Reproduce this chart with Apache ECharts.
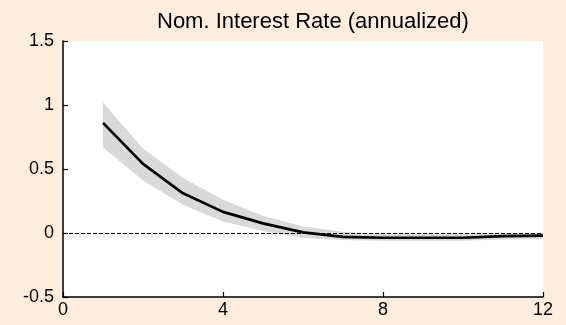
<!DOCTYPE html>
<html><head><meta charset="utf-8">
<script src="https://cdn.jsdelivr.net/npm/echarts@6/dist/echarts.min.js"></script>
<style>html,body{margin:0;padding:0;background:#fdeedf;}#c{width:566px;height:325px;}</style>
</head><body><div id="c"></div>
<script>
const horizons = [1,2,3,4,5,6,7,8,9,10,11,12];
const median = [0.86, 0.54, 0.31, 0.165, 0.075, 0.005, -0.03, -0.037, -0.037, -0.037, -0.025, -0.02];
const upper  = [1.02, 0.66, 0.43, 0.26, 0.135, 0.05, 0.01, -0.005, -0.005, -0.005, 0.0, 0.0];
const lower  = [0.67, 0.41, 0.22, 0.09, 0.015, -0.04, -0.055, -0.06, -0.06, -0.06, -0.05, -0.045];
const xTicks = [0, 4, 8, 12];
const yTicks = [-0.5, 0, 0.5, 1, 1.5];
const titleText = 'Nom. Interest Rate (annualized)';

const font = 'Liberation Sans, Arial, Helvetica, sans-serif';
const chart = echarts.init(document.getElementById('c'));
chart.setOption({
  backgroundColor: '#fdeedf',
  animation: false,
  title: { text: titleText, left: 152, top: 6,
    textStyle: { fontFamily: font, fontSize: 22, fontWeight: 'normal', color: '#000' } },
  grid: { left: 63, right: 23, top: 41, bottom: 28, show: true, backgroundColor: '#fff', borderWidth: 0 },
  xAxis: { type: 'value', min: xTicks[0], max: xTicks[xTicks.length-1], interval: 4,
    axisLine: { onZero: false, lineStyle: { color: '#000', width: 1.5 } },
    axisTick: { inside: true, length: 5, lineStyle: { color: '#000', width: 1.2 } },
    axisLabel: { fontFamily: font, fontSize: 18, color: '#000', margin: 4 },
    splitLine: { show: false } },
  yAxis: { type: 'value', min: yTicks[0], max: yTicks[yTicks.length-1], interval: 0.5,
    axisLine: { show: true, onZero: false, lineStyle: { color: '#000', width: 1.5 } },
    axisTick: { show: true, inside: true, length: 5, lineStyle: { color: '#000', width: 1.2 } },
    axisLabel: { fontFamily: font, fontSize: 18, color: '#000', margin: 9 },
    splitLine: { show: false } },
  series: [
    { type: 'custom', silent: true, z: 1,
      data: horizons.map((h,i)=>[h, lower[i], upper[i]]),
      encode: { x: 0, y: [1, 2] },
      renderItem: function (params, api) {
        if (params.dataIndex !== 0) return null;
        const pts = [];
        for (let i = 0; i < horizons.length; i++) pts.push(api.coord([horizons[i], upper[i]]));
        for (let i = horizons.length - 1; i >= 0; i--) pts.push(api.coord([horizons[i], lower[i]]));
        return { type: 'polygon', shape: { points: pts }, style: { fill: '#d9d9d9', stroke: null } };
      } },
    { type: 'line', data: horizons.map((h,i)=>[h, median[i]]), symbol: 'none',
      lineStyle: { color: '#000', width: 2.7 }, z: 5,
      markLine: { silent: true, symbol: 'none', label: { show: false },
        lineStyle: { color: '#000', type: [4, 2], width: 1 },
        data: [{ yAxis: 0 }] } }
  ]
});
</script></body></html>
